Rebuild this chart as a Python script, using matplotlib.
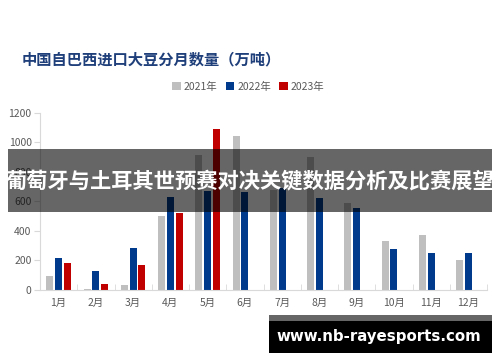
import numpy as np
import matplotlib
matplotlib.use("Agg")
import matplotlib.pyplot as plt
from matplotlib.patches import Patch, Rectangle

plt.rcParams['font.family'] = ['Noto Sans CJK SC', 'DejaVu Sans']

months = ["1月", "2月", "3月", "4月", "5月", "6月", "7月", "8月", "9月", "10月", "11月", "12月"]
y2021 = [95, 7, 32, 502, 918, 1042, 676, 900, 588, 332, 373, 205]
y2022 = [219, 129, 285, 628, 670, 667, 689, 622, 554, 278, 251, 251]
y2023 = [181, 38, 167, 525, 1089, np.nan, np.nan, np.nan, np.nan, np.nan, np.nan, np.nan]
series_names = ["2021年", "2022年", "2023年"]
colors = ["#BFBFBF", "#003A8C", "#C00000"]

title = "中国自巴西进口大豆分月数量（万吨）"
banner = "葡萄牙与土耳其世预赛对决关键数据分析及比赛展望"
site = "www.nb-rayesports.com"

fig = plt.figure(figsize=(5, 3.62), dpi=100)
ax = fig.add_axes([0.08, 0.199, 0.894, 0.489])

x = np.arange(len(months))
step = 0.235
width = 0.19
for i, (vals, c) in enumerate(zip([y2021, y2022, y2023], colors)):
    ax.bar(x + (i - 1) * step, vals, width=width, color=c, zorder=2)

ax.set_xlim(-0.5, len(months) - 0.5)
ax.set_ylim(0, 1200)
ax.set_yticks(range(0, 1201, 200))
ax.set_xticks(x)
ax.set_xticklabels(months)
ax.set_xticks(np.arange(-0.5, len(months), 1.0), minor=True)

for s in ["top", "right"]:
    ax.spines[s].set_visible(False)
ax.spines["left"].set_color("#D9D9D9")
ax.spines["bottom"].set_color("#D9D9D9")
ax.tick_params(axis="x", which="major", length=0, pad=6, labelsize=7.5, labelcolor="#595959")
ax.tick_params(axis="x", which="minor", direction="in", length=4, color="#D9D9D9")
ax.tick_params(axis="y", length=4, color="#D9D9D9", labelsize=7.5, labelcolor="#595959", pad=2)

fig.text(0.044, 0.837, title, fontsize=11, fontweight="bold", color="#1F3F7A", va="center")

handles = [Patch(facecolor=c, edgecolor="none") for c in colors]
fig.legend(handles, series_names, loc="center", bbox_to_anchor=(0.497, 0.76), ncol=3,
           frameon=False, fontsize=7.5, labelcolor="#595959", handlelength=0.8, handleheight=0.8,
           handletextpad=0.3, columnspacing=0.8)

# overlay banner
fig.patches.append(Rectangle((0.016, 1 - 212 / 362), 0.968, 63 / 362, transform=fig.transFigure,
                             facecolor="black", alpha=0.6, edgecolor="none", zorder=5))
fig.text(0.5, 1 - 181 / 362, banner, fontsize=15.3, fontweight="bold", color="white",
         ha="center", va="center", zorder=6)

# site box
fig.patches.append(Rectangle((269 / 500, 1 - 321 / 362), 223 / 500, 6 / 362, transform=fig.transFigure,
                             facecolor="#666666", edgecolor="none", zorder=5))
fig.patches.append(Rectangle((269 / 500, 1 - 353 / 362), 223 / 500, 32 / 362, transform=fig.transFigure,
                             facecolor="black", edgecolor="none", zorder=5))
fig.text(379 / 500, 1 - 337 / 362, site, fontsize=10.8, fontweight="bold", color="white",
         ha="center", va="center", family="DejaVu Sans", zorder=6)

fig.savefig("out.png", dpi=100)
